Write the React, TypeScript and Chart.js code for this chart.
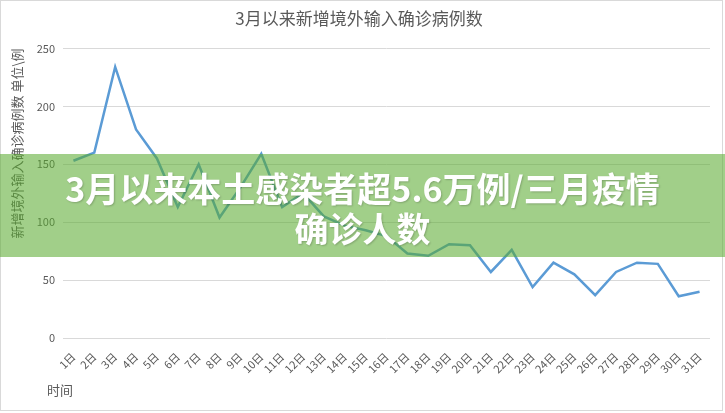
import { useEffect, useRef } from "react";
import { Chart, ChartConfiguration, registerables } from "chart.js";

Chart.register(...registerables);

const days = [
  "1日", "2日", "3日", "4日", "5日", "6日", "7日", "8日", "9日", "10日",
  "11日", "12日", "13日", "14日", "15日", "16日", "17日", "18日", "19日", "20日",
  "21日", "22日", "23日", "24日", "25日", "26日", "27日", "28日", "29日", "30日", "31日",
];

const importedCases = [
  153, 160, 234, 180, 155, 113, 150, 104, 130, 159,
  113, 125, 105, 97, 93, 88, 73, 71, 81, 80,
  57, 76, 44, 65, 55, 37, 57, 65, 64, 36, 40,
];

const yTicks = [0, 50, 100, 150, 200, 250];

const chartTitle = "3月以来新增境外输入确诊病例数";
const yTitle = "新增境外输入确诊病例数 单位\\例";
const xTitle = "时间";
const bannerLines = ["3月以来本土感染者超5.6万例/三月疫情", "确诊人数"];

const FONT = "'Noto Sans CJK SC', 'Noto Sans', sans-serif";
const GREY = "#595959";

export default function App() {
  const chartRef = useRef<HTMLCanvasElement>(null);
  const chartInstance = useRef<Chart | null>(null);

  useEffect(() => {
    if (!chartRef.current) return;
    const ctx = chartRef.current.getContext("2d");
    if (!ctx) return;

    if (chartInstance.current) {
      chartInstance.current.destroy();
    }

    // x axis title sits left of the plot area, so draw it by hand
    const xTitlePlugin = {
      id: "xTitle",
      afterDraw(chart: Chart) {
        const c = chart.ctx;
        c.save();
        c.font = `13px ${FONT}`;
        c.fillStyle = GREY;
        c.textAlign = "left";
        c.textBaseline = "middle";
        c.fillText(xTitle, 47, 390);
        c.restore();
      },
    };

    const config: ChartConfiguration = {
      type: "line",
      data: {
        labels: days,
        datasets: [{
          label: "新增境外输入确诊病例数",
          data: importedCases,
          borderColor: "#5b9bd5",
          backgroundColor: "#5b9bd5",
          borderWidth: 2.5,
          pointRadius: 0,
          tension: 0,
        }],
      },
      options: {
        responsive: false,
        animation: false,
        layout: { padding: { left: 8, right: 15, top: 0, bottom: 0 } },
        plugins: {
          legend: { display: false },
          tooltip: { enabled: false },
          title: {
            display: true,
            text: chartTitle,
            color: GREY,
            font: { family: FONT, size: 17, weight: "normal" },
            padding: { top: 8, bottom: 20 },
          },
        },
        scales: {
          x: {
            offset: true,
            grid: { display: false },
            border: { display: false },
            ticks: {
              color: GREY,
              font: { family: FONT, size: 11 },
              maxRotation: 45,
              minRotation: 45,
              autoSkip: false,
              padding: 4,
            },
            afterFit(scale: any) {
              scale.height = 75;
            },
          },
          y: {
            min: 0,
            max: 250,
            afterBuildTicks(scale: any) {
              scale.ticks = yTicks.map((v) => ({ value: v }));
            },
            grid: { color: "#d9d9d9", drawTicks: false, lineWidth: 1 },
            border: { display: false },
            ticks: {
              color: GREY,
              font: { family: FONT, size: 11 },
              padding: 8,
            },
            title: {
              display: true,
              text: yTitle,
              color: GREY,
              align: "end",
              font: { family: FONT, size: 13 },
              padding: { top: 1, bottom: 0 },
            },
            afterFit(scale: any) {
              scale.width = 55;
            },
          },
        },
      },
      plugins: [xTitlePlugin],
    };

    chartInstance.current = new Chart(ctx, config);

    return () => {
      if (chartInstance.current) {
        chartInstance.current.destroy();
        chartInstance.current = null;
      }
    };
  }, []);

  return (
    <div
      style={{
        position: "absolute",
        left: 0,
        top: 0,
        width: 725,
        height: 413,
        background: "#ffffff",
        overflow: "hidden",
      }}
    >
      <canvas ref={chartRef} width={725} height={413} style={{ display: "block" }}></canvas>
      <div
        style={{
          position: "absolute",
          left: 0,
          top: 0,
          width: 721,
          height: 409,
          border: "1px solid #d9d9d9",
          pointerEvents: "none",
        }}
      ></div>
      <div
        style={{
          position: "absolute",
          left: 0,
          top: 154,
          width: 725,
          height: 103,
          background: "rgba(89, 170, 47, 0.57)",
          boxSizing: "border-box",
          paddingTop: 14,
          textAlign: "center",
          color: "#ffffff",
          fontFamily: FONT,
          fontWeight: 700,
          fontSize: 34,
          lineHeight: "40px",
          textShadow: "1px 1px 2px rgba(0,0,0,0.2)",
          whiteSpace: "nowrap",
        }}
      >
        {bannerLines.map((line, i) => (
          <div key={i}>{line}</div>
        ))}
      </div>
    </div>
  );
}
